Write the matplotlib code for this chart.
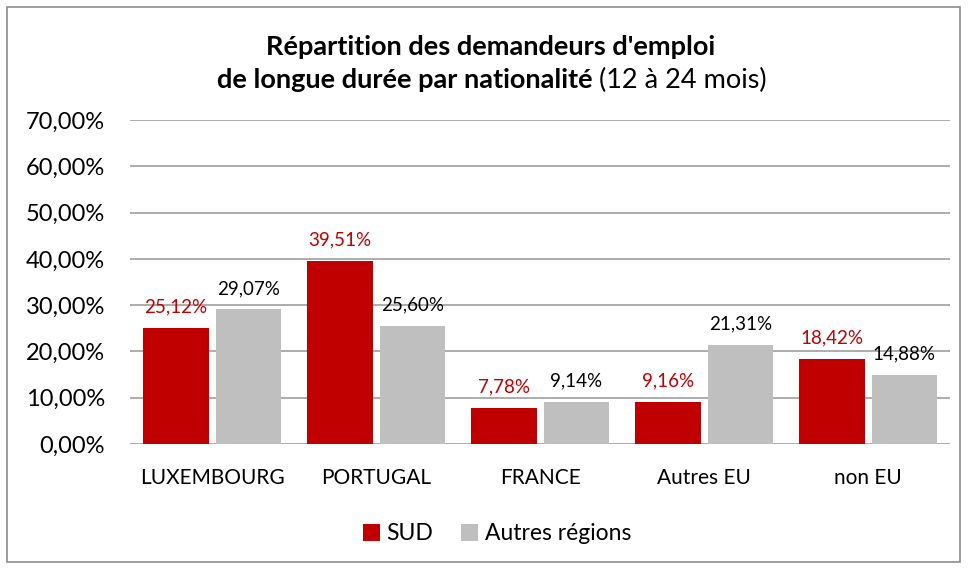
import matplotlib.pyplot as plt
import numpy as np
from matplotlib.patches import Rectangle

categories = ["LUXEMBOURG", "PORTUGAL", "FRANCE", "Autres EU", "non EU"]
sud = [25.12, 39.51, 7.78, 9.16, 18.42]
autres = [29.07, 25.60, 9.14, 21.31, 14.88]
yticks = [0, 10, 20, 30, 40, 50, 60, 70]

RED = "#C00000"
GREY = "#BFBFBF"

plt.rcParams["font.family"] = ["Lato", "DejaVu Sans"]


def fr(v):
    return f"{v:.2f}%".replace(".", ",")


fig = plt.figure(figsize=(9.68, 5.69), dpi=100)
ax = fig.add_axes([130 / 968, 1 - 444 / 569, 820 / 968, 324 / 569])

x = np.arange(len(categories))
w = 0.40
off = 0.5 * w + 3.5 / 164
ax.bar(x - off, sud, w, color=RED, label="SUD", zorder=3)
ax.bar(x + off, autres, w, color=GREY, label="Autres régions", zorder=3)

for xi, v in zip(x, sud):
    ax.annotate(fr(v), (xi - off, v), xytext=(0, 9), textcoords="offset points",
                ha="center", va="bottom", fontsize=13.5, color=RED)
for xi, v in zip(x, autres):
    ax.annotate(fr(v), (xi + off, v), xytext=(0, 9), textcoords="offset points",
                ha="center", va="bottom", fontsize=13.5, color="black")

ax.set_xlim(-0.5, len(categories) - 0.5)
ax.set_ylim(0, 70)
ax.set_yticks(yticks)
ax.set_yticklabels([fr(t) for t in yticks], fontsize=17)
ax.set_xticks(x)
ax.set_xticklabels(categories, fontsize=15)
ax.tick_params(axis="both", length=0)
ax.tick_params(axis="y", pad=18)
ax.tick_params(axis="x", pad=17)
ax.yaxis.grid(True, color="#A6A6A6", linewidth=1.3, zorder=0)
for s in ax.spines.values():
    s.set_visible(False)

# title, second line mixes bold and regular text
fig.text(491 / 968, 1 - 47 / 569, "Répartition des demandeurs d'emploi",
         ha="center", va="center", fontsize=19.5, fontweight="bold")
t1 = fig.text(0, 1 - 80 / 569, "de longue durée par nationalité",
              ha="left", va="center", fontsize=19.5, fontweight="bold")
t2 = fig.text(0, 1 - 80 / 569, " (12 à 24 mois)",
              ha="left", va="center", fontsize=19.5)
fig.canvas.draw()
r = fig.canvas.get_renderer()
w1 = t1.get_window_extent(r).width
w2 = t2.get_window_extent(r).width
start = 492 - (w1 + w2) / 2
t1.set_x(start / 968)
t2.set_x((start + w1) / 968)

ax.legend(loc="center", bbox_to_anchor=(497 / 968, 1 - 534 / 569),
          bbox_transform=fig.transFigure, ncol=2, frameon=False, fontsize=16.5,
          handlelength=0.75, handleheight=0.75, handletextpad=0.3, columnspacing=1.2)

fig.patches.append(Rectangle((7 / 968, 7 / 569), 953 / 968, 555 / 569,
                             transform=fig.transFigure, fill=False,
                             edgecolor="#8C8C8C", linewidth=1.2))

fig.savefig("out.png", dpi=100)
